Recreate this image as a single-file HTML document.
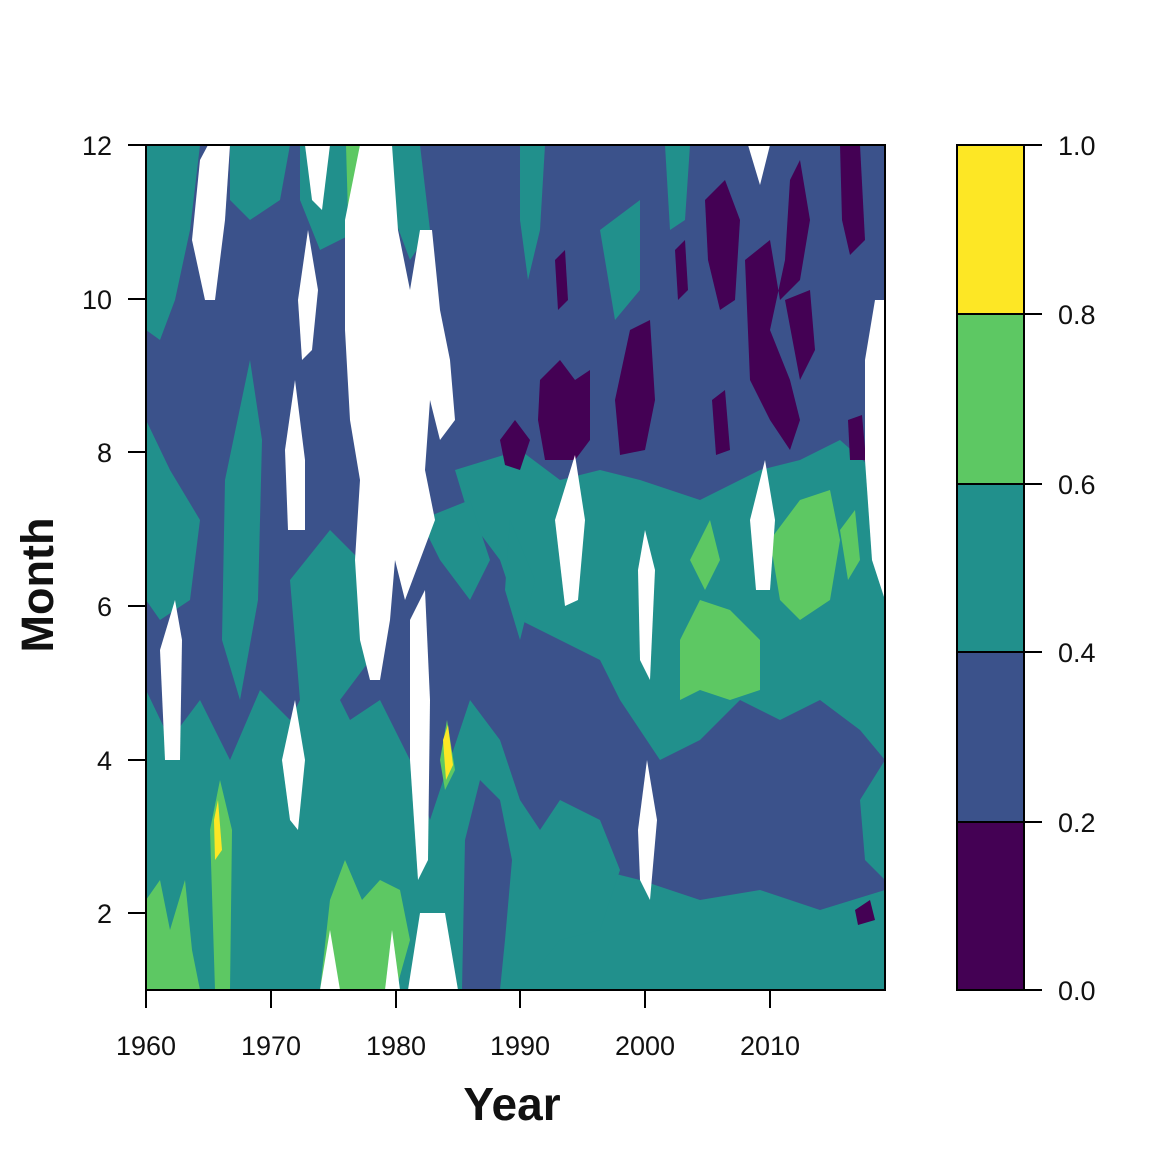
<!DOCTYPE html>
<html><head><meta charset="utf-8"><style>
html,body{margin:0;padding:0;background:#fff;}
svg{display:block;font-family:"Liberation Sans",Arial,sans-serif;}
</style></head><body>
<svg width="1170" height="1170" viewBox="0 0 1170 1170" xmlns="http://www.w3.org/2000/svg">
<defs><clipPath id="c"><rect x="146" y="145" width="739" height="845"/></clipPath></defs>
<g clip-path="url(#c)">
<rect x="146" y="145" width="739" height="845" fill="#3b528b"/>
<g fill="#21908c">
<polygon points="146,990 520,990 520,940 560,900 600,870 640,880 700,900 760,890 820,910 885,890 885,990 146,990"/>
<polygon points="146,990 146,690 170,740 200,700 230,760 260,690 290,720 320,660 350,720 380,700 410,760 430,820 450,760 470,700 500,740 520,800 540,830 560,800 600,820 620,870 600,930 560,940 520,990"/>
<polygon points="146,145 200,145 190,230 175,300 160,340 146,330"/>
<polygon points="146,420 170,470 200,520 190,600 160,620 146,600"/>
<polygon points="230,145 290,145 280,200 250,220 230,200"/>
<polygon points="225,480 250,360 262,440 258,600 240,700 222,640"/>
<polygon points="290,580 330,530 360,560 370,660 340,700 300,700"/>
<polygon points="300,145 380,145 360,230 320,250 300,200"/>
<polygon points="390,145 420,145 430,230 410,260 395,220"/>
<polygon points="455,470 520,450 560,480 600,470 640,480 700,500 760,470 800,460 840,440 885,480 885,760 860,730 820,700 780,720 740,700 700,740 660,760 620,700 600,660 560,640 520,620 500,560 470,520"/>
<polygon points="510,520 535,580 520,640 505,590"/>
<polygon points="420,520 470,500 490,560 470,600 440,560"/>
<polygon points="520,145 545,145 540,230 528,280 520,220"/>
<polygon points="600,230 640,200 640,290 615,320"/>
<polygon points="665,145 690,145 685,220 670,230"/>
<polygon points="860,800 885,760 885,880 865,860"/>
</g>
<polygon fill="#3b528b" points="462,990 465,840 480,780 500,800 512,860 505,940 500,990"/>
<g fill="#5dc863">
<polygon points="146,990 146,900 160,880 170,930 185,880 192,950 200,990"/>
<polygon points="210,830 220,780 232,830 230,990 215,990"/>
<polygon points="320,990 330,900 345,860 362,900 380,880 400,890 410,940 396,990"/>
<polygon points="680,640 700,600 730,610 760,640 760,690 730,700 700,690 680,700"/>
<polygon points="770,540 800,500 830,490 840,540 830,600 800,620 780,600"/>
<polygon points="690,560 710,520 720,560 705,590"/>
<polygon points="440,760 447,720 455,770 445,790"/>
<polygon points="346,145 365,145 355,215 348,215"/>
<polygon points="840,530 855,510 860,560 848,580"/>
</g>
<g fill="#fde725">
<polygon points="443,740 448,725 453,765 446,780"/>
<polygon points="214,820 218,800 222,850 215,860"/>
</g>
<g fill="#440154">
<polygon points="500,440 515,420 530,440 520,470 505,465"/>
<polygon points="540,380 560,360 575,380 590,370 590,440 575,460 545,460 538,420"/>
<polygon points="615,400 630,330 650,320 655,400 645,450 620,455"/>
<polygon points="705,200 725,180 740,220 735,300 720,310 708,260"/>
<polygon points="745,260 770,240 780,300 800,280 810,220 800,160 790,180 785,260 770,330 790,380 800,420 790,450 770,420 750,380"/>
<polygon points="785,300 810,290 815,350 800,380"/>
<polygon points="840,145 860,145 865,240 850,255 842,220"/>
<polygon points="712,400 725,390 730,450 716,455"/>
<polygon points="848,420 862,415 866,460 850,460"/>
<polygon points="675,250 685,240 688,290 678,300"/>
<polygon points="555,260 565,250 568,300 558,310"/>
<polygon points="855,910 870,900 875,920 858,925"/>
</g>
<g fill="#fff">
<polygon points="345,220 360,145 392,145 398,230 410,290 420,230 432,230 440,310 450,360 455,420 440,440 430,400 425,470 435,520 420,560 405,600 395,560 390,620 380,680 370,680 360,640 355,560 360,480 350,420 345,330"/>
<polygon points="410,620 425,590 430,700 428,860 418,880 410,760"/>
<polygon points="192,240 200,160 208,145 230,145 225,220 215,300 205,300"/>
<polygon points="285,450 295,380 305,460 305,530 288,530"/>
<polygon points="282,760 295,700 305,760 298,830 290,820"/>
<polygon points="160,650 175,600 182,640 180,760 165,760"/>
<polygon points="298,300 308,230 318,290 312,350 302,360"/>
<polygon points="305,145 330,145 322,210 312,200"/>
<polygon points="555,520 575,455 585,520 578,600 565,606"/>
<polygon points="638,570 645,530 655,570 650,680 640,660"/>
<polygon points="638,830 647,760 657,820 650,900 640,880"/>
<polygon points="750,520 765,460 775,520 770,590 756,590"/>
<polygon points="748,145 770,145 760,185"/>
<polygon points="865,360 875,300 885,300 885,600 872,560 865,460"/>
<polygon points="408,990 420,913 445,913 458,990"/>
<polygon points="320,990 330,930 340,990"/>
<polygon points="385,990 392,930 400,990"/>
</g>
</g>
<rect x="146" y="145" width="739" height="845" fill="none" stroke="#000" stroke-width="2"/>
<g stroke="#000" stroke-width="2">
<line x1="146" y1="145" x2="128" y2="145"/><line x1="146" y1="299" x2="128" y2="299"/>
<line x1="146" y1="452" x2="128" y2="452"/><line x1="146" y1="606" x2="128" y2="606"/>
<line x1="146" y1="760" x2="128" y2="760"/><line x1="146" y1="913" x2="128" y2="913"/>
<line x1="146" y1="990" x2="146" y2="1008"/><line x1="271" y1="990" x2="271" y2="1008"/>
<line x1="396" y1="990" x2="396" y2="1008"/><line x1="520" y1="990" x2="520" y2="1008"/>
<line x1="645" y1="990" x2="645" y2="1008"/><line x1="770" y1="990" x2="770" y2="1008"/>
</g>
<g font-size="27" fill="#111" text-anchor="end">
<text x="112" y="155">12</text><text x="112" y="309">10</text><text x="112" y="462">8</text>
<text x="112" y="616">6</text><text x="112" y="770">4</text><text x="112" y="923">2</text>
</g>
<g font-size="27" fill="#111" text-anchor="middle">
<text x="146" y="1055">1960</text><text x="271" y="1055">1970</text><text x="396" y="1055">1980</text>
<text x="520" y="1055">1990</text><text x="645" y="1055">2000</text><text x="770" y="1055">2010</text>
</g>
<text x="512" y="1120" font-size="46" font-weight="bold" text-anchor="middle" fill="#111">Year</text>
<text transform="translate(53,585) rotate(-90)" font-size="45" font-weight="bold" text-anchor="middle" fill="#111">Month</text>
<rect x="957" y="145" width="67" height="169" fill="#fde725"/>
<rect x="957" y="314" width="67" height="170" fill="#5dc863"/>
<rect x="957" y="484" width="67" height="168" fill="#21908c"/>
<rect x="957" y="652" width="67" height="170" fill="#3b528b"/>
<rect x="957" y="822" width="67" height="168" fill="#440154"/>
<g stroke="#000" stroke-width="2">
<rect x="957" y="145" width="67" height="845" fill="none"/>
<line x1="957" y1="314" x2="1024" y2="314"/><line x1="957" y1="484" x2="1024" y2="484"/>
<line x1="957" y1="652" x2="1024" y2="652"/><line x1="957" y1="822" x2="1024" y2="822"/>
<line x1="1024" y1="145" x2="1042" y2="145"/><line x1="1024" y1="314" x2="1042" y2="314"/>
<line x1="1024" y1="484" x2="1042" y2="484"/><line x1="1024" y1="652" x2="1042" y2="652"/>
<line x1="1024" y1="822" x2="1042" y2="822"/><line x1="1024" y1="990" x2="1042" y2="990"/>
</g>
<g font-size="27" fill="#111">
<text x="1058" y="155">1.0</text><text x="1058" y="324">0.8</text><text x="1058" y="494">0.6</text>
<text x="1058" y="662">0.4</text><text x="1058" y="832">0.2</text><text x="1058" y="1000">0.0</text>
</g>
</svg>
</body></html>
